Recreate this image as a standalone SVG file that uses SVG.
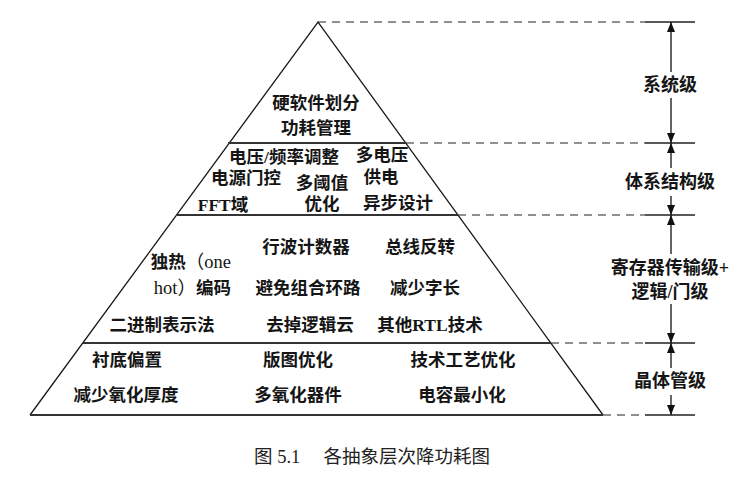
<svg xmlns="http://www.w3.org/2000/svg" width="743" height="477" viewBox="0 0 743 477">
<defs>
<marker id="ah" viewBox="0 0 10 8" refX="10" refY="4" markerWidth="10" markerHeight="8" markerUnits="userSpaceOnUse" orient="auto">
<path d="M0,0 L10,4 L0,8 Z" fill="#111"/>
</marker>
</defs>
<style>
.t{font-family:"Liberation Serif","Noto Sans CJK SC",serif;font-size:17.5px;font-weight:bold;fill:#151515}
.r{font-weight:normal;font-size:18.5px}
.lab{font-family:"Liberation Serif","Noto Sans CJK SC",serif;font-size:18px;font-weight:bold;fill:#151515;text-anchor:middle}
.c{text-anchor:middle}
.edge{stroke:#1a1a1a;stroke-width:1.3;fill:none}
.bd{stroke:#333;stroke-width:2;fill:none}
.dash{stroke:#222;stroke-width:1.2;stroke-dasharray:8 6;fill:none}
.sol{stroke:#222;stroke-width:1.3;fill:none}
.arr{stroke:#111;stroke-width:1.3;fill:none;marker-end:url(#ah)}
.cap{font-family:"Liberation Serif","Noto Sans CJK SC",serif;font-size:18.5px;fill:#222}
</style>
<rect width="743" height="477" fill="#fff"/>

<g id="pyramid">
<path class="edge" d="M30,415 L318,22 L603,415"/>
<line class="bd" x1="228" y1="143" x2="406" y2="143"/>
<line class="bd" x1="176" y1="215" x2="458" y2="215"/>
<line class="bd" x1="83" y1="343" x2="551" y2="343"/>
<line class="bd" x1="30" y1="415" x2="603" y2="415"/>
</g>

<g id="layer-system">
<text class="t c" x="316" y="109">硬软件划分</text>
<text class="t c" x="316" y="134">功耗管理</text>
</g>

<g id="layer-architecture">
<text class="t c" x="284" y="163">电压/频率调整</text>
<text class="t c" x="382" y="161">多电压</text>
<text class="t c" x="246" y="184">电源门控</text>
<text class="t c" x="322" y="189">多阈值</text>
<text class="t c" x="381" y="183">供电</text>
<text class="t c" x="223" y="211">FFT域</text>
<text class="t c" x="322" y="210">优化</text>
<text class="t c" x="398" y="209">异步设计</text>
</g>

<g id="layer-rtl">
<text class="t" x="231" y="268" text-anchor="end">独热<tspan class="r">（one</tspan></text>
<text class="t" x="231" y="294" text-anchor="end"><tspan class="r">hot）</tspan>编码</text>
<text class="t c" x="162" y="331">二进制表示法</text>
<text class="t c" x="306" y="253">行波计数器</text>
<text class="t c" x="308" y="294">避免组合环路</text>
<text class="t c" x="310" y="331">去掉逻辑云</text>
<text class="t c" x="420" y="253">总线反转</text>
<text class="t c" x="425" y="294">减少字长</text>
<text class="t c" x="430" y="331">其他RTL技术</text>
</g>

<g id="layer-transistor">
<text class="t c" x="127" y="366">衬底偏置</text>
<text class="t c" x="298" y="366">版图优化</text>
<text class="t c" x="463" y="366">技术工艺优化</text>
<text class="t c" x="126" y="401">减少氧化厚度</text>
<text class="t c" x="298" y="401">多氧化器件</text>
<text class="t c" x="462" y="401">电容最小化</text>
</g>

<g id="connectors">
<line class="dash" x1="318" y1="22" x2="645" y2="22"/>
<line class="dash" x1="406" y1="143" x2="645" y2="143"/>
<line class="dash" x1="458" y1="215" x2="645" y2="215"/>
<line class="dash" x1="551" y1="343" x2="645" y2="343"/>
<line class="dash" x1="603" y1="415" x2="645" y2="415"/>
<line class="sol" x1="645" y1="22" x2="695" y2="22"/>
<line class="sol" x1="645" y1="143" x2="695" y2="143"/>
<line class="sol" x1="645" y1="215" x2="695" y2="215"/>
<line class="sol" x1="645" y1="343" x2="695" y2="343"/>
<line class="sol" x1="645" y1="415" x2="695" y2="415"/>
<line class="arr" x1="671" y1="72" x2="671" y2="22"/>
<line class="arr" x1="671" y1="98" x2="671" y2="143"/>
<line class="arr" x1="671" y1="168" x2="671" y2="143"/>
<line class="arr" x1="671" y1="196" x2="671" y2="215"/>
<line class="arr" x1="671" y1="254" x2="671" y2="215"/>
<line class="arr" x1="671" y1="304" x2="671" y2="343"/>
<line class="arr" x1="671" y1="368" x2="671" y2="343"/>
<line class="arr" x1="671" y1="395" x2="671" y2="415"/>
</g>

<g id="level-labels">
<text class="lab" x="670" y="91">系统级</text>
<text class="lab" x="670" y="188">体系结构级</text>
<text class="lab" x="670" y="274">寄存器传输级+</text>
<text class="lab" x="670" y="298">逻辑/门级</text>
<text class="lab" x="670" y="387">晶体管级</text>
</g>

<text class="cap" x="372" y="463" text-anchor="middle">图 5.1　 各抽象层次降功耗图</text>
</svg>
